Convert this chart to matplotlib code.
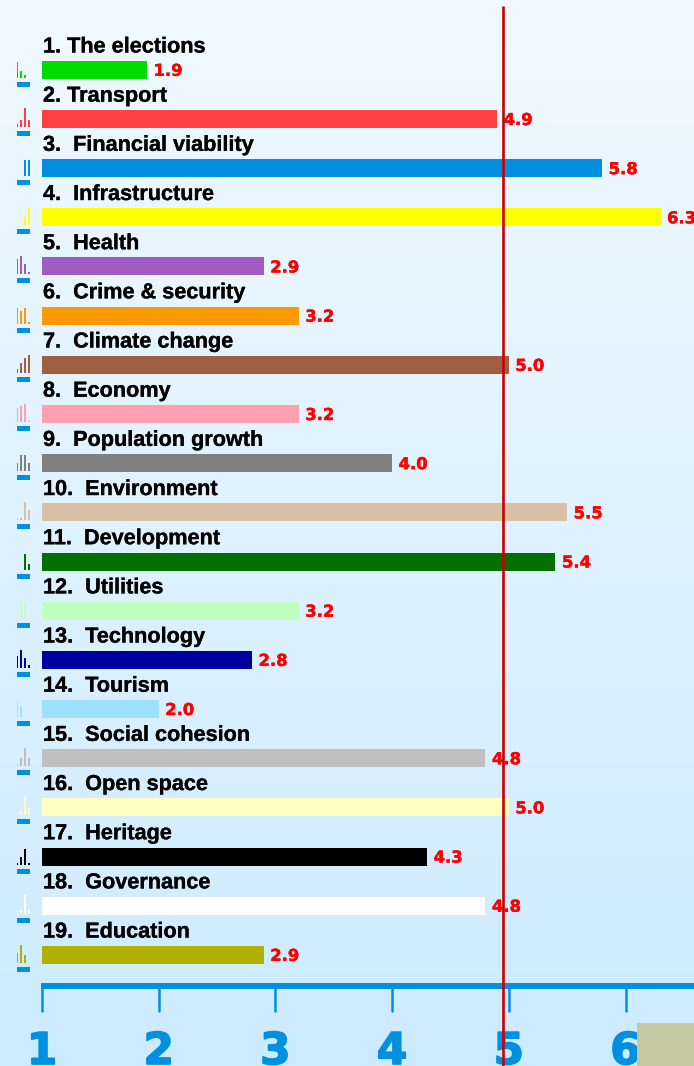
import os
import numpy as np
import matplotlib
matplotlib.use("Agg")
import matplotlib.pyplot as plt
import matplotlib.patheffects as pe
from matplotlib.font_manager import FontProperties

# topics and their average score
topics = ["1. The elections", "2. Transport", "3.  Financial viability", "4.  Infrastructure",
          "5.  Health", "6.  Crime & security", "7.  Climate change", "8.  Economy",
          "9.  Population growth", "10.  Environment", "11.  Development", "12.  Utilities",
          "13.  Technology", "14.  Tourism", "15.  Social cohesion", "16.  Open space",
          "17.  Heritage", "18.  Governance", "19.  Education"]
scores = [1.9, 4.9, 5.8, 6.3, 2.9, 3.2, 5.0, 3.2, 4.0, 5.5, 5.4, 3.2, 2.8, 2.0, 4.8, 5.0, 4.3, 4.8, 2.9]
colors = ["#00dc00", "#ff4040", "#008fe0", "#ffff00", "#a05cc0", "#ff9900", "#a05f40", "#ff9fb0",
          "#808080", "#d8c0a4", "#007000", "#c0ffc0", "#0000a0", "#a0e0ff", "#c0c0c0", "#ffffc0",
          "#000000", "#ffffff", "#b0b000"]
# small histogram beside each bar
spark = [[16, 7, 3, 0], [3, 7, 19, 7], [0, 0, 16, 16], [0, 0, 8, 18], [15, 18, 10, 2],
         [16, 13, 16, 2], [4, 10, 15, 18], [14, 16, 18, 1], [8, 16, 16, 8], [2, 2, 18, 10],
         [0, 0, 16, 6], [13, 19, 16, 0], [12, 18, 10, 3], [16, 11, 0, 0], [2, 8, 18, 8],
         [2, 4, 18, 7], [2, 8, 16, 2], [3, 4, 19, 4], [10, 18, 8, 0]]
ticks = [1, 2, 3, 4, 5, 6]
mean_score = 4.95

W, H = 694, 1066
PX = 116.7  # pixels per score unit
BLUE = "#0090e0"

# bundled file, so the wide bold face is certain
bold_file = os.path.join(matplotlib.get_data_path(), "fonts", "ttf", "DejaVuSans-Bold.ttf")
value_font = FontProperties(fname=bold_file, size=11.8)
tick_font = FontProperties(fname=bold_file, size=31.5)


def heavy(width, color):
    return [pe.withStroke(linewidth=width, foreground=color)]


fig = plt.figure(figsize=(W / 100, H / 100), dpi=100)
ax = fig.add_axes([0, 0, 1, 1])
x0 = 1 - 42 / PX
x1 = x0 + W / PX
ax.set_xlim(x0, x1)
ax.set_ylim(H, 0)
ax.axis("off")

# background gradient
grad = np.linspace(0, 1, 256)[:, None]
top = np.array([240, 249, 255]) / 255
bottom = np.array([205, 235, 255]) / 255
img = (top + (bottom - top) * grad[:, :, None]).reshape(256, 1, 3)
ax.imshow(img, extent=[x0, x1, H, 0], aspect="auto", zorder=0)

spark_left = [17, 20, 24, 28]
spark_width = [1.3, 2, 2, 2]

for i in range(len(topics)):
    y = 69.8 + 49.17 * i
    ax.barh(y, scores[i] - 1, left=1, height=18, color=colors[i], zorder=2)
    ax.text(1 + 1 / PX, y - 17.3, topics[i], fontsize=15.6, fontweight="bold", family="Liberation Sans",
            color="black", va="baseline", ha="left", zorder=4, path_effects=heavy(0.2, "black"))
    ax.text(scores[i] + 6.5 / PX, y + 6, "%.1f" % scores[i], fontproperties=value_font,
            color="#ff0000", va="baseline", ha="left", zorder=5, path_effects=heavy(0.3, "#ff0000"))
    # histogram, four small bars, left of the main bar
    for j in range(4):
        if spark[i][j] > 0:
            ax.bar(x0 + spark_left[j] / PX, spark[i][j], width=spark_width[j] / PX, align="edge",
                   bottom=y + 8 - spark[i][j], color=colors[i], zorder=2)
    ax.barh(y + 14.5, 13 / PX, left=x0 + 17 / PX, height=5, color=BLUE, zorder=2)

# axis line and ticks
ax.plot([1 - 1 / PX, x1], [986.3, 986.3], color=BLUE, lw=4.3, solid_capstyle="butt", zorder=3)
for t in ticks:
    ax.plot([t, t], [986, 1011], color=BLUE, lw=1.8, solid_capstyle="round", zorder=3)
    ax.text(t, 1064, str(t), fontproperties=tick_font, color=BLUE, ha="center", va="baseline", zorder=3,
            path_effects=heavy(1.2, BLUE))
# the next label wraps round to the left edge, only its corner shows
ax.text(x0 + 2 / PX, 1064, "7", fontproperties=tick_font, color=BLUE, ha="right", va="baseline", zorder=3,
        path_effects=heavy(1.2, BLUE))

# olive box in the corner
ax.bar(x0 + 665.5 / PX, 43, width=57 / PX, bottom=1023, color="#c4c8a0", zorder=4)

# mean line
ax.plot([mean_score, mean_score], [6, H], color="#cc0000", lw=1.9, solid_capstyle="butt", zorder=6)

fig.savefig("out.png", dpi=100)
